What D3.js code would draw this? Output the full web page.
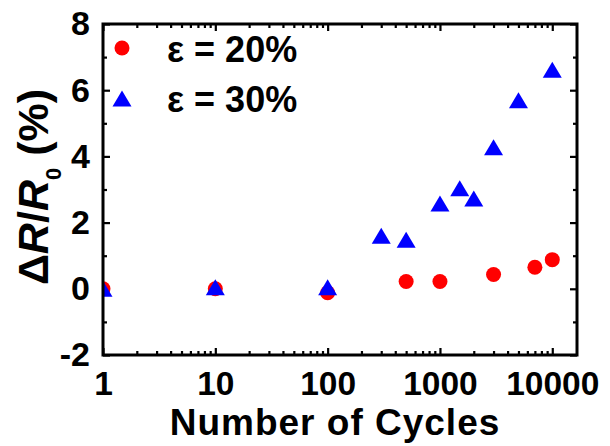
<!DOCTYPE html>
<html>
<head>
<meta charset="utf-8">
<script src="https://cdn.jsdelivr.net/npm/d3@7"></script>
<style>
  html, body { margin: 0; padding: 0; background: #fff; }
  svg { display: block; font-family: "Liberation Sans", Arial, sans-serif; font-weight: bold; }
</style>
</head>
<body>
<svg id="chart" width="610" height="446"></svg>
<script>
// Resistance change vs. number of stretching cycles
const cycles20 = [1, 10, 100, 500, 1000, 3000, 7000, 10000];
const dR20     = [0, 0, -0.12, 0.22, 0.22, 0.43, 0.65, 0.88];
const cycles30 = [1, 10, 100, 300, 500, 1000, 1500, 2000, 3000, 5000, 10000];
const dR30     = [0, 0.05, 0.05, 1.6, 1.48, 2.58, 3.04, 2.73, 4.28, 5.7, 6.62];
const seriesNames = ["\u03b5 = 20%", "\u03b5 = 30%"];
const xTickLabels = [1, 10, 100, 1000, 10000];
const yTickLabels = [-2, 0, 2, 4, 6, 8];

const svg = d3.select("#chart");
const m = { left: 103, right: 577, top: 24, bottom: 355 };

const x = d3.scaleLog().domain([1, 16600]).range([m.left, m.right]);
const y = d3.scaleLinear().domain([-2, 8]).range([m.bottom, m.top]);

const minorX = [];
for (let d = 1; d <= 10000; d *= 10)
  for (let k = 2; k <= 9; k++) if (d * k < 16600) minorX.push(d * k);
const minorY = d3.range(-1, 8, 2);

// plain hyphen for negatives
const fmt = v => String(v);
const major = 7, minor = 4;

function styleAxis(g, fontSize) {
  g.select(".domain").remove();
  g.selectAll(".tick line").attr("stroke", "#000").attr("stroke-width", 2.2);
  g.selectAll(".tick text").attr("fill", "#000").style("font-size", fontSize + "px")
    .style("font-weight", "bold").style("font-family", "'Liberation Sans', Arial, sans-serif");
}

// bottom axis
svg.append("g").attr("transform", `translate(0,${m.bottom})`)
  .call(d3.axisBottom(x).tickValues(xTickLabels).tickFormat(fmt).tickSizeInner(-major).tickSizeOuter(0).tickPadding(16))
  .call(g => styleAxis(g, 33.5));
svg.append("g").attr("transform", `translate(0,${m.bottom})`)
  .call(d3.axisBottom(x).tickValues(minorX).tickFormat("").tickSizeInner(-minor).tickSizeOuter(0))
  .call(g => styleAxis(g, 34));
// top axis
svg.append("g").attr("transform", `translate(0,${m.top})`)
  .call(d3.axisTop(x).tickValues(xTickLabels).tickFormat("").tickSizeInner(-major).tickSizeOuter(0))
  .call(g => styleAxis(g, 34));
svg.append("g").attr("transform", `translate(0,${m.top})`)
  .call(d3.axisTop(x).tickValues(minorX).tickFormat("").tickSizeInner(-minor).tickSizeOuter(0))
  .call(g => styleAxis(g, 34));
// left axis
svg.append("g").attr("transform", `translate(${m.left},0)`)
  .call(d3.axisLeft(y).tickValues(yTickLabels).tickFormat(fmt).tickSizeInner(-major).tickSizeOuter(0).tickPadding(13))
  .call(g => styleAxis(g, 34));
svg.append("g").attr("transform", `translate(${m.left},0)`)
  .call(d3.axisLeft(y).tickValues(minorY).tickFormat("").tickSizeInner(-minor).tickSizeOuter(0))
  .call(g => styleAxis(g, 34));
// right axis
svg.append("g").attr("transform", `translate(${m.right},0)`)
  .call(d3.axisRight(y).tickValues(yTickLabels).tickFormat("").tickSizeInner(-major).tickSizeOuter(0))
  .call(g => styleAxis(g, 34));
svg.append("g").attr("transform", `translate(${m.right},0)`)
  .call(d3.axisRight(y).tickValues(minorY).tickFormat("").tickSizeInner(-minor).tickSizeOuter(0))
  .call(g => styleAxis(g, 34));

// plot-area clip
svg.append("clipPath").attr("id", "plotClip")
  .append("rect").attr("x", m.left).attr("y", m.top)
  .attr("width", m.right - m.left).attr("height", m.bottom - m.top);

const triW = 19, triH = 16;
const triPath = (cx, cy) => `M${cx},${cy - triH / 2}L${cx + triW / 2},${cy + triH / 2}L${cx - triW / 2},${cy + triH / 2}Z`;

const plot = svg.append("g").attr("clip-path", "url(#plotClip)");
plot.selectAll("circle.s20").data(cycles20.map((c, i) => [c, dR20[i]]))
  .join("circle").attr("class", "s20")
  .attr("cx", d => x(d[0])).attr("cy", d => y(d[1])).attr("r", 7.5)
  .attr("fill", "#ff0000");
plot.selectAll("path.s30").data(cycles30.map((c, i) => [c, dR30[i]]))
  .join("path").attr("class", "s30")
  .attr("d", d => triPath(x(d[0]), y(d[1])))
  .attr("fill", "#0000ff");

// frame
svg.append("rect").attr("x", m.left).attr("y", m.top)
  .attr("width", m.right - m.left).attr("height", m.bottom - m.top)
  .attr("fill", "none").attr("stroke", "#000").attr("stroke-width", 3);

// legend
const leg = svg.append("g");
leg.append("circle").attr("cx", 122).attr("cy", 48).attr("r", 7.5).attr("fill", "#ff0000");
leg.append("path").attr("d", triPath(122, 98.5)).attr("fill", "#0000ff");
leg.selectAll("text").data(seriesNames).join("text")
  .attr("x", 167).attr("y", (d, i) => 61.5 + i * 50)
  .style("font-size", "36px").attr("fill", "#000").text(d => d);

// axis titles
svg.append("text").attr("x", 335).attr("y", 435).attr("text-anchor", "middle")
  .style("font-size", "37px").style("letter-spacing", "1px").attr("fill", "#000").text("Number of Cycles");

const yt = svg.append("text").attr("transform", "translate(48,187) rotate(-90)")
  .attr("text-anchor", "middle").style("font-size", "43px").attr("fill", "#000");
yt.append("tspan").text("\u0394");
yt.append("tspan").style("font-style", "italic").text("R");
yt.append("tspan").text("/");
yt.append("tspan").style("font-style", "italic").text("R");
yt.append("tspan").attr("dy", 13).style("font-size", "22px").text("0");
yt.append("tspan").attr("dy", -13).text(" (%)");
</script>
</body>
</html>
